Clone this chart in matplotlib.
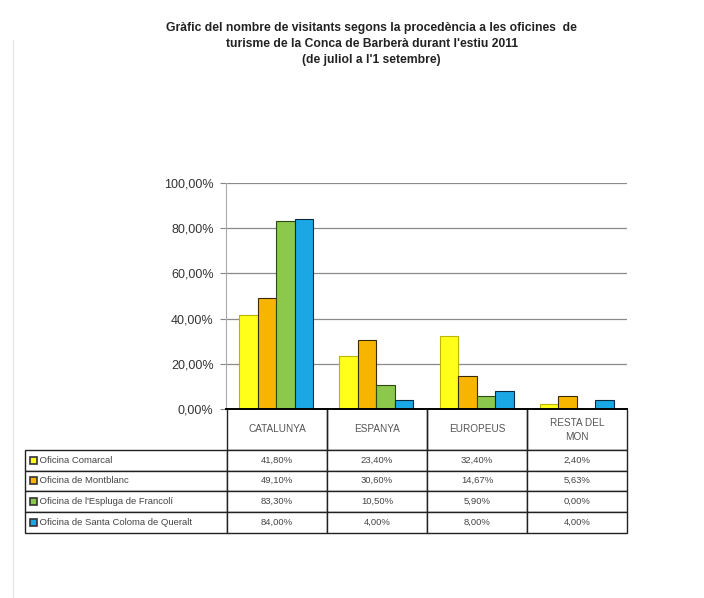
import matplotlib
matplotlib.use("Agg")
import matplotlib.pyplot as plt
from matplotlib.patches import Rectangle
from matplotlib.lines import Line2D
import numpy as np

# ---- data ----
categories = ["CATALUNYA", "ESPANYA", "EUROPEUS", "RESTA DEL MON"]
header_labels = ["CATALUNYA", "ESPANYA", "EUROPEUS", "RESTA DEL\nMON"]
series_names = ["Oficina Comarcal", "Oficina de Montblanc",
                "Oficina de l'Espluga de Francolí",
                "Oficina de Santa Coloma de Queralt"]
comarcal = [41.80, 23.40, 32.40, 2.40]
montblanc = [49.10, 30.60, 14.67, 5.63]
espluga = [83.30, 10.50, 5.90, 0.00]
santa_coloma = [84.00, 4.00, 8.00, 4.00]
series_values = [comarcal, montblanc, espluga, santa_coloma]
yticks = [0, 20, 40, 60, 80, 100]

colors = ["#FFFF1A", "#F7B500", "#8CC84B", "#1AA7E4"]
edges = ["#BDB400", "#3a2a00", "#2f4a10", "#0a2a40"]

title = ("Gràfic del nombre de visitants segons la procedència a les oficines  de\n"
         "turisme de la Conca de Barberà durant l'estiu 2011\n"
         "(de juliol a l'1 setembre)")

W, H = 704, 598
fig = plt.figure(figsize=(W / 100, H / 100), dpi=100)
fig.patch.set_facecolor("white")

def fx(px):
    return px / W

def fy(py):
    return 1 - py / H

ax_l, ax_r, ax_t, ax_b = 226, 627, 183, 409
ax = fig.add_axes([fx(ax_l), fy(ax_b), fx(ax_r - ax_l), (ax_b - ax_t) / H])

x = np.arange(len(categories)) + 0.5
bw = 0.185
for k, vals in enumerate(series_values):
    ax.bar(x + (k - 1.5) * bw, vals, width=bw, color=colors[k],
           edgecolor=edges[k], linewidth=0.8, zorder=3, label=series_names[k])

ax.set_xlim(0, len(categories))
ax.set_ylim(0, 100)
ax.set_yticks(yticks)
ax.set_yticklabels([f"{v:.2f}".replace(".", ",") + "%" for v in yticks],
                   fontsize=9, color="#333333", family="Liberation Sans")
ax.set_xticks([])
ax.yaxis.grid(True, color="#8a8a8a", linewidth=0.9, zorder=0)
ax.tick_params(axis="y", length=4, width=0.8, color="#888888", pad=5)
for s in ["top", "right"]:
    ax.spines[s].set_visible(False)
ax.spines["left"].set_color("#aaaaaa")
ax.spines["left"].set_linewidth(0.8)
ax.spines["bottom"].set_color("black")
ax.spines["bottom"].set_linewidth(1.4)
ax.spines["bottom"].set_zorder(5)

# ---- data table ----
cell_text = []
row_cols = [""] + header_labels
cell_text.append(row_cols)
for name, vals in zip(series_names, series_values):
    cell_text.append(["    " + name] +
                     [f"{v:.2f}".replace(".", ",") + "%" for v in vals])

tab_l, tab_r, tab_t, tab_b = 25, 627, 409, 533
bbox = [(tab_l - ax_l) / (ax_r - ax_l), -(tab_b - tab_t) / (ax_b - ax_t),
        (tab_r - tab_l) / (ax_r - ax_l), (tab_b - tab_t) / (ax_b - ax_t)]
table = ax.table(cellText=cell_text, cellLoc="center", bbox=bbox)
table.auto_set_font_size(False)
col_w = [202, 100, 100, 100, 100]
row_h = [41, 20.5, 20.5, 20.5, 21.5]
for (r, c), cell in table.get_celld().items():
    cell.set_width(col_w[c])
    cell.set_height(row_h[r])
    cell.set_linewidth(1.0)
    cell.set_edgecolor("#222222")
    cell.get_text().set_fontsize(7.2 if r == 0 else 6.8)
    cell.get_text().set_color("#555555" if r == 0 else "#444444")
    cell.get_text().set_family("Liberation Sans")
    cell.get_text().set_linespacing(1.5)
    if r == 0 and c == 0:
        cell.visible_edges = ""
    elif r == 0:
        cell.visible_edges = "LRB"
    if c == 0 and r > 0:
        cell.get_text().set_ha("left")
        cell._loc = "left"
        cell.PAD = 0.02

# legend keys in row-label cells
y0 = tab_t + row_h[0]
for k in range(len(series_names)):
    yc = y0 + sum(row_h[1:k + 1]) + row_h[k + 1] / 2
    fig.add_artist(Rectangle((fx(30), fy(yc + 3.5)), 7 / W, 7 / H,
                             transform=fig.transFigure, facecolor=colors[k],
                             edgecolor="#333333", linewidth=1.2))

fig.text(0.528, fy(22), title, ha="center", va="top", fontsize=8.7,
         fontweight="bold", family="Liberation Sans", color="#222222",
         linespacing=1.45)

fig.add_artist(Line2D([fx(13), fx(13)], [fy(40), 0], transform=fig.transFigure,
                      color="#e6e6e6", linewidth=1.0))

fig.savefig("out.png", dpi=100, facecolor="white")
